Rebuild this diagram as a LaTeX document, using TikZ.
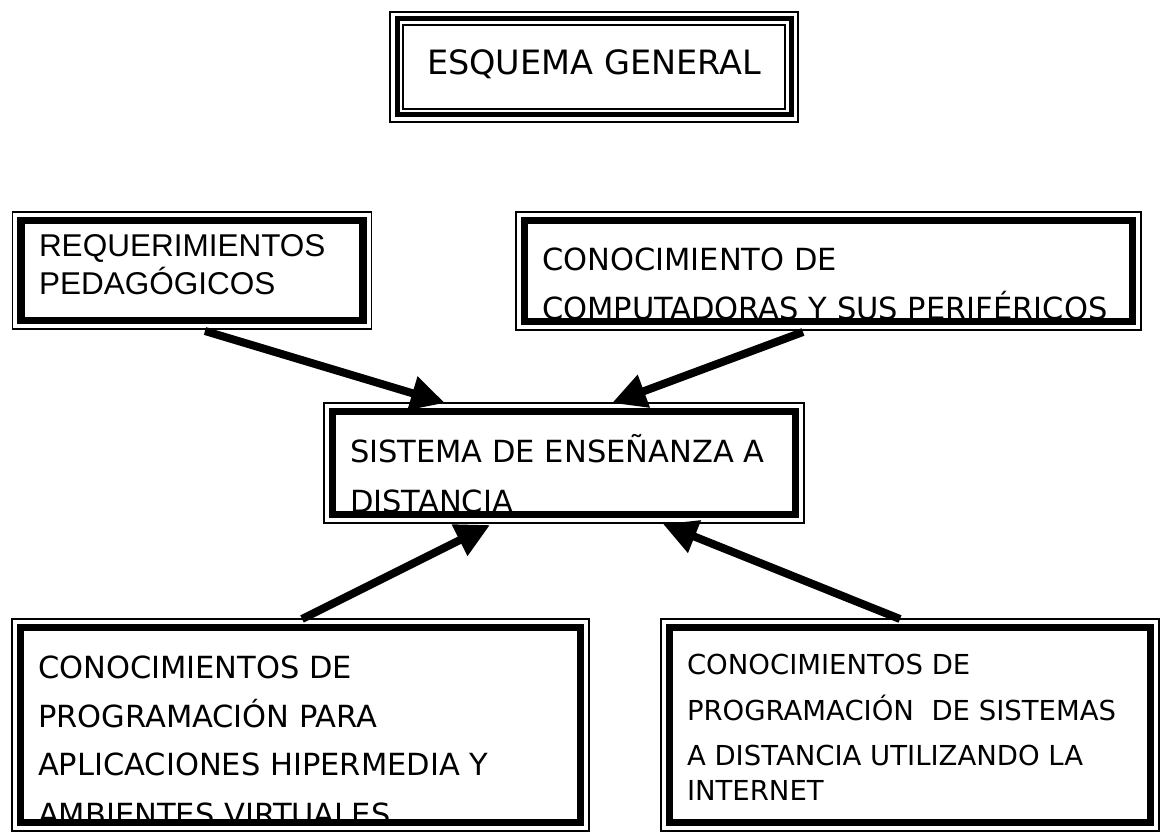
\documentclass[tikz,border=0pt]{standalone}
\usepackage{fontspec}
\setmainfont{DejaVu Sans}
\newfontfamily\arialf{Liberation Sans}
\usetikzlibrary{arrows.meta}
\tikzset{
  outerbox/.style={draw, line width=1.5pt, fill=white, inner sep=0pt, outer sep=0pt},
  thickrule/.style={line width=7.5pt},
  thinrule/.style={line width=1.5pt},
  arr/.style={line width=8pt, -{Triangle[length=34pt,width=33pt]}},
  txt/.style={anchor=base west, inner sep=0pt, outer sep=0pt},
  bigtxt/.style={txt, font=\fontsize{30.5}{36}\selectfont},
  smalltxt/.style={txt, font=\fontsize{27.5}{33}\selectfont},
  ariatxt/.style={txt, font=\arialf\fontsize{31.5}{36}\selectfont},
}
\begin{document}
\begin{tikzpicture}[x=1pt,y=-1pt]
\fill[white] (0,0) rectangle (1161,832);
\useasboundingbox (0,0) rectangle (1161,832);

% ---------- title ----------
\node[outerbox, minimum width=408pt, minimum height=110pt] (title) at (594,67) {};
\draw[line width=5pt] ([shift={(7,7)}]title.north west) rectangle ([shift={(-7,-7)}]title.south east);
\draw[thinrule] ([shift={(13,13)}]title.north west) rectangle ([shift={(-13,-13)}]title.south east);
\node[inner sep=0pt, anchor=base, font=\fontsize{33.5}{38}\selectfont] (titletext) at (594,75) {ESQUEMA GENERAL};

% ---------- boxes ----------
\node[outerbox, minimum width=359pt, minimum height=117pt] (tl) at (192,270.5) {};
\node[outerbox, minimum width=625pt, minimum height=118pt] (tr) at (828.5,271) {};
\node[outerbox, minimum width=480pt, minimum height=120pt] (ctr) at (564,463) {};
\node[outerbox, minimum width=577pt, minimum height=212pt] (bl) at (300.5,725) {};
\node[outerbox, minimum width=498pt, minimum height=212pt] (br) at (910,725) {};

\foreach \b in {tl,tr,ctr,bl,br}{
  \draw[thickrule] ([shift={(8.5,8.5)}]\b.north west) rectangle ([shift={(-8.5,-8.5)}]\b.south east);
}

% ---------- texts ----------
\begin{scope}
  \clip ([shift={(12.5,12.5)}]tl.north west) rectangle ([shift={(-12.5,-12.5)}]tl.south east);
  \node[ariatxt] (tl1) at (39,256) {REQUERIMIENTOS};
  \node[ariatxt] (tl2) at (39,294) {PEDAGÓGICOS};
\end{scope}
\begin{scope}
  \clip ([shift={(12.5,12.5)}]tr.north west) rectangle ([shift={(-12.5,-12.5)}]tr.south east);
  \node[bigtxt] (tr1) at (542,270) {CONOCIMIENTO DE};
  \node[bigtxt] (tr2) at (542,319) {COMPUTADORAS Y SUS PERIFÉRICOS};
\end{scope}
\begin{scope}
  \clip ([shift={(12.5,12.5)}]ctr.north west) rectangle ([shift={(-12.5,-12.5)}]ctr.south east);
  \node[bigtxt] (c1) at (350,462) {SISTEMA DE ENSEÑANZA A};
  \node[bigtxt] (c2) at (350,512) {DISTANCIA};
\end{scope}
\begin{scope}
  \clip ([shift={(12.5,12.5)}]bl.north west) rectangle ([shift={(-12.5,-12.5)}]bl.south east);
  \node[bigtxt] (bl1) at (38,678) {CONOCIMIENTOS DE};
  \node[bigtxt] (bl2) at (38,727) {PROGRAMACIÓN PARA};
  \node[bigtxt] (bl3) at (38,775) {APLICACIONES HIPERMEDIA Y};
  \node[bigtxt] (bl4) at (38,825) {AMBIENTES VIRTUALES};
\end{scope}
\begin{scope}
  \clip ([shift={(12.5,12.5)}]br.north west) rectangle ([shift={(-12.5,-12.5)}]br.south east);
  \node[smalltxt] (br1) at (687,674) {CONOCIMIENTOS DE};
  \node[smalltxt] (br2) at (687,720) {PROGRAMACIÓN\ \ DE SISTEMAS};
  \node[smalltxt] (br3) at (687,765) {A DISTANCIA UTILIZANDO LA};
  \node[smalltxt] (br4) at (687,800) {INTERNET};
\end{scope}

% ---------- arrows ----------
\draw[arr] ([shift={(13,2)}]tl.south) -- ([shift={(-119,0)}]ctr.north);
\draw[arr] ([shift={(-25.5,2)}]tr.south) -- ([shift={(48,0)}]ctr.north);
\draw[arr] ([shift={(1.5,0)}]bl.north) -- ([shift={(-74,2)}]ctr.south);
\draw[arr] ([shift={(-10,0)}]br.north) -- ([shift={(99,1)}]ctr.south);
\end{tikzpicture}
\end{document}
